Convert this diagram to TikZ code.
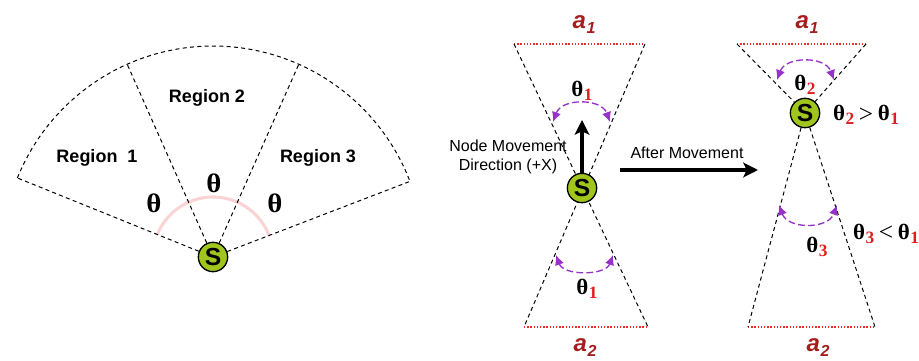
\documentclass[tikz,border=0pt]{standalone}
\usepackage{fontspec}
\usepackage{graphicx}
\setmainfont{Liberation Sans}
\newfontfamily\serifgr{Liberation Serif}
\usetikzlibrary{arrows.meta,calc}
\definecolor{sgreen}{RGB}{160,198,30}
\definecolor{pinkarc}{RGB}{250,212,212}
\definecolor{dotred}{RGB}{230,45,40}
\definecolor{subred}{RGB}{225,30,30}
\definecolor{darkred}{RGB}{165,30,30}
\definecolor{arcpurple}{RGB}{150,50,200}
\newcommand\bigtheta{\resizebox{11.3pt}{14pt}{\serifgr\bfseries θ}}
\newcommand\smtheta{\resizebox{9pt}{11.5pt}{\serifgr\bfseries θ}}
\newcommand\thsub[1]{\smtheta\kern0.4pt\raisebox{-3.4pt}{\serifgr\bfseries\fontsize{13}{13}\selectfont\color{subred}#1}}
\newcommand\cmpsign[1]{\kern3.5pt\raisebox{-1.2pt}{\serifgr\fontsize{19}{18}\selectfont #1}\kern3.5pt}
\newcommand\alab[1]{{\fontsize{18}{20}\selectfont\bfseries\itshape\color{darkred}a\kern0.5pt\raisebox{-0.4ex}{\fontsize{12}{12}\selectfont #1}}}
\begin{document}
\begin{tikzpicture}[x=0.75pt,y=-0.75pt,
  dline/.style={line width=0.75pt, dash pattern=on 3pt off 2.5pt},
  rline/.style={dotred, line width=1.3pt, dash pattern=on 1.1pt off 1.3pt},
  parc/.style={arcpurple, line width=1pt, dash pattern=on 5pt off 2.5pt, {Latex[length=7.5pt,width=7pt]}-{Latex[length=7.5pt,width=7pt]}},
  snode/.style={circle, draw=black, line width=1pt, fill=sgreen, minimum size=22pt, inner sep=0pt, font=\fontsize{18.5}{18}\selectfont\bfseries},
  reg/.style={font=\fontsize{13.5}{16}\selectfont\bfseries},
  note/.style={font=\fontsize{12}{14.5}\selectfont, align=center},
  thl/.style={inner sep=0pt},
  movearrow/.style={line width=3pt, -{Stealth[length=11pt,width=11pt,inset=2.5pt]}},
]
\useasboundingbox (0,0) rectangle (919,360);

% ---------- left diagram ----------
\coordinate (S0) at (213,257);
\draw[pinkarc, line width=2.3pt] plot[domain=-158:-20, samples=60] ({213+60*cos(\x)},{257+60*sin(\x)});
\draw[dline] plot[domain=-158:-21, samples=90] ({213+211*cos(\x)},{257+211*sin(\x)});
\coordinate (e1) at ($(S0)+(-158:211)$);
\coordinate (e2) at ($(S0)+(-114:211)$);
\coordinate (e3) at ($(S0)+(-66:211)$);
\coordinate (e4) at ($(S0)+(-21:211)$);
\node[snode] (s0) at (S0) {S};
\draw[dline] (s0) -- (e1);
\draw[dline] (s0) -- (e2);
\draw[dline] (s0) -- (e3);
\draw[dline] (s0) -- (e4);
\node[reg] (r2) at (207,98) {Region 2};
\node[reg] (r1) at (97,158) {Region\ \ 1};
\node[reg] (r3) at (318,158) {Region 3};
\node[thl] (th1) at (154,203) {\bigtheta};
\node[thl] (th2) at (214,183) {\bigtheta};
\node[thl] (th3) at (275,203) {\bigtheta};

% ---------- middle diagram ----------
\coordinate (TL) at (514,44);
\coordinate (TR) at (645,44);
\coordinate (BL) at (524,327);
\coordinate (BR) at (648,327);
\draw[rline] (TL) -- (TR);
\draw[rline] (BL) -- (BR);
\draw[dline] (TL) -- (BR);
\draw[dline] (TR) -- (BL);
\node[snode] (s1) at (582,188) {S};
\coordinate (up1) at (582,120);
\draw[movearrow] (s1.north) -- (up1);
\coordinate (pa1) at (553,122);
\coordinate (pb1) at (610,122);
\draw[parc] (pa1) to[bend left=70, looseness=1.15] (pb1);
\coordinate (pc1) at (556,255);
\coordinate (pd1) at (613,255);
\draw[parc] (pc1) to[bend right=70, looseness=1.0] (pd1);
\node[thl] (tm1) at (582,91) {\thsub{1}};
\node[thl] (tm2) at (587,289) {\thsub{1}};
\node[note] (nm) at (508,157) {Node Movement\\Direction (+X)};
\node (a1m) at (584,25) {\alab{1}};
\node (a2m) at (585,348) {\alab{2}};

% ---------- arrow ----------
\coordinate (ar1) at (620,170);
\coordinate (ar2) at (758,170);
\draw[movearrow] (ar1) -- (ar2);
\node[note] (am) at (687,153) {After Movement};

% ---------- right diagram ----------
\coordinate (TL2) at (737,44);
\coordinate (TR2) at (866,44);
\coordinate (BL2) at (748,327);
\coordinate (BR2) at (875,327);
\draw[rline] (TL2) -- (TR2);
\draw[rline] (BL2) -- (BR2);
\node[snode] (s2) at (805,113) {S};
\draw[dline] (TL2) -- (s2);
\draw[dline] (TR2) -- (s2);
\draw[dline] (s2) -- (BL2);
\draw[dline] (s2) -- (BR2);
\coordinate (pa2) at (777,80);
\coordinate (pb2) at (834,80);
\draw[parc] (pa2) to[bend left=70, looseness=1.15] (pb2);
\coordinate (pc2) at (779,205);
\coordinate (pd2) at (837,205);
\draw[parc] (pc2) to[bend right=70, looseness=1.15] (pd2);
\node[thl] (tr2) at (805,85) {\thsub{2}};
\node[thl] (tr3) at (817,247) {\thsub{3}};
\node[thl] (cmp1) at (866,115) {\thsub{2}\cmpsign{>}\thsub{1}};
\node[thl] (cmp2) at (886,234) {\thsub{3}\cmpsign{<}\thsub{1}};
\node (a1r) at (807,25) {\alab{1}};
\node (a2r) at (818,348) {\alab{2}};
\end{tikzpicture}
\end{document}
